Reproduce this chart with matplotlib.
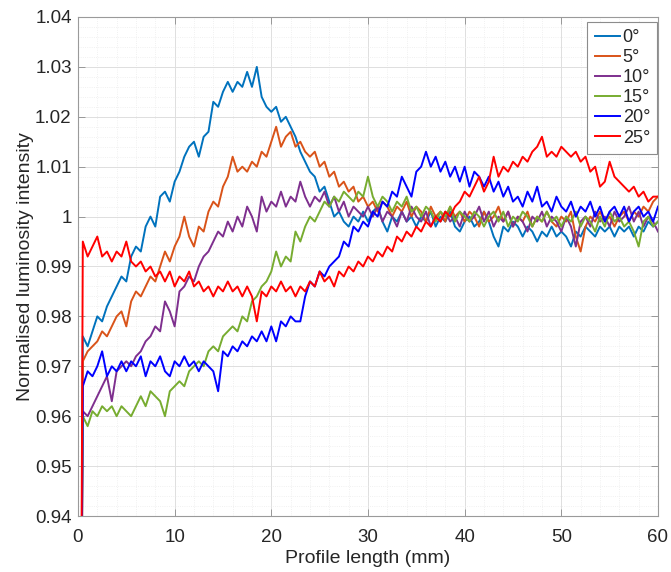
import numpy as np
import matplotlib
matplotlib.use("Agg")
import matplotlib.pyplot as plt
from matplotlib.ticker import MultipleLocator, FixedLocator, FixedFormatter

plt.rcParams['font.family'] = ['Liberation Sans', 'DejaVu Sans']

# sample positions along the profile (first sample is the edge drop-off)
x_mm = np.r_[0.3, np.arange(0.5, 60.01, 0.5)]
edge_value = 0.90

angle_labels = ['0°', '5°', '10°', '15°', '20°', '25°']
line_colors = ['#0072BD', '#D95319', '#7E2F8E', '#77AC30', '#0000FF', '#FF0000']

# normalised luminosity, every 0.5 mm (0.5 .. 60 mm)
lum_0 = [
    0.976, 0.974, 0.977, 0.980, 0.979, 0.982, 0.984, 0.986, 0.988, 0.987,
    0.992, 0.994, 0.993, 0.998, 1.000, 0.998, 1.004, 1.005, 1.003, 1.007,
    1.009, 1.012, 1.014, 1.015, 1.012, 1.016, 1.017, 1.023, 1.022, 1.025,
    1.027, 1.025, 1.027, 1.026, 1.029, 1.026, 1.030, 1.024, 1.022, 1.021,
    1.022, 1.019, 1.020, 1.018, 1.016, 1.013, 1.011, 1.009, 1.008, 1.005,
    1.006, 1.003, 1.000, 1.001, 0.999, 0.998, 1.000, 0.999, 1.001, 0.999,
    1.001, 1.002, 0.999, 0.997, 1.000, 0.999, 1.001, 0.999, 1.000, 0.998,
    1.000, 0.999, 1.001, 0.998, 1.000, 0.999, 1.001, 0.998, 0.997, 0.999,
    1.000, 0.998, 0.999, 1.001, 0.999, 0.996, 0.994, 0.998, 0.997, 0.999,
    0.998, 0.996, 0.998, 0.997, 0.995, 0.997, 0.996, 0.998, 0.996, 0.997,
    0.996, 0.994, 0.997, 0.996, 0.998, 0.997, 0.996, 0.998, 0.997, 0.998,
    0.996, 0.998, 0.997, 0.998, 0.996, 0.998, 0.997, 0.999, 0.998, 0.999,
]
lum_5 = [
    0.971, 0.973, 0.974, 0.975, 0.977, 0.976, 0.978, 0.980, 0.981, 0.978,
    0.983, 0.985, 0.984, 0.986, 0.988, 0.987, 0.990, 0.993, 0.991, 0.994,
    0.996, 1.000, 0.996, 0.994, 0.998, 0.997, 1.001, 1.003, 1.002, 1.006,
    1.008, 1.012, 1.009, 1.010, 1.009, 1.011, 1.010, 1.013, 1.012, 1.015,
    1.018, 1.014, 1.016, 1.017, 1.014, 1.015, 1.013, 1.012, 1.013, 1.010,
    1.011, 1.008, 1.009, 1.006, 1.007, 1.005, 1.006, 1.003, 1.004, 1.002,
    1.003, 1.001, 1.003, 1.002, 1.000, 1.002, 1.001, 1.003, 1.000, 1.002,
    1.001, 0.999, 1.002, 1.000, 1.001, 0.999, 1.002, 1.000, 1.001, 0.999,
    1.001, 1.000, 0.998, 1.001, 0.999, 1.000, 1.002, 0.999, 1.001, 0.998,
    1.000, 0.999, 1.001, 0.998, 1.000, 0.999, 1.001, 0.999, 0.998, 1.000,
    0.999, 1.001, 0.996, 0.993, 0.998, 1.000, 0.999, 1.001, 0.999, 1.000,
    0.998, 1.000, 1.001, 0.999, 1.001, 1.000, 1.002, 1.001, 1.003, 1.004,
]
lum_10 = [
    0.961, 0.960, 0.962, 0.964, 0.966, 0.968, 0.963, 0.969, 0.970, 0.971,
    0.970, 0.972, 0.973, 0.975, 0.976, 0.978, 0.977, 0.983, 0.981, 0.978,
    0.985, 0.986, 0.988, 0.987, 0.990, 0.992, 0.993, 0.995, 0.997, 0.996,
    0.999, 0.997, 1.000, 0.998, 1.002, 1.000, 0.997, 1.004, 1.001, 1.003,
    1.002, 1.005, 1.002, 1.004, 1.003, 1.007, 1.004, 1.002, 1.004, 1.003,
    1.005, 1.002, 1.004, 1.001, 1.003, 1.000, 1.002, 1.001, 1.000, 1.002,
    1.000, 1.002, 0.999, 1.001, 1.000, 0.998, 1.001, 0.999, 1.002, 1.000,
    0.999, 1.001, 0.998, 1.000, 0.999, 1.001, 0.999, 1.000, 0.998, 1.001,
    0.999, 1.000, 1.002, 0.999, 1.001, 0.998, 1.000, 0.999, 1.001, 0.998,
    1.000, 0.999, 0.997, 1.000, 0.999, 1.001, 0.998, 1.000, 0.999, 0.997,
    1.000, 0.998, 0.994, 0.999, 1.000, 0.998, 1.001, 0.999, 1.000, 0.998,
    1.001, 0.999, 1.000, 1.002, 0.999, 1.001, 0.998, 1.000, 0.999, 0.997,
]
lum_15 = [
    0.960, 0.958, 0.961, 0.960, 0.962, 0.961, 0.962, 0.960, 0.962, 0.961,
    0.960, 0.962, 0.964, 0.962, 0.965, 0.964, 0.963, 0.960, 0.965, 0.966,
    0.967, 0.966, 0.969, 0.970, 0.971, 0.970, 0.973, 0.974, 0.973, 0.976,
    0.977, 0.978, 0.977, 0.980, 0.979, 0.983, 0.984, 0.986, 0.987, 0.989,
    0.993, 0.990, 0.992, 0.991, 0.997, 0.995, 0.998, 1.000, 0.999, 1.001,
    1.003, 1.002, 1.004, 1.003, 1.005, 1.004, 1.003, 1.005, 1.004, 1.008,
    1.004, 1.002, 1.004, 1.003, 1.001, 1.003, 1.002, 1.004, 1.001, 1.002,
    1.000, 1.002, 1.001, 0.999, 1.001, 1.000, 1.002, 0.999, 1.001, 1.000,
    0.999, 1.001, 1.000, 0.998, 1.000, 1.001, 0.999, 1.001, 0.998, 1.000,
    0.999, 1.001, 1.000, 0.998, 1.000, 0.999, 1.001, 0.999, 1.000, 0.998,
    1.000, 0.999, 1.001, 0.998, 1.000, 0.999, 0.997, 1.000, 0.998, 1.001,
    0.999, 1.000, 0.998, 0.999, 0.997, 0.994, 0.999, 1.000, 0.998, 0.999,
]
lum_20 = [
    0.966, 0.969, 0.968, 0.970, 0.973, 0.968, 0.970, 0.969, 0.971, 0.969,
    0.971, 0.970, 0.972, 0.968, 0.971, 0.970, 0.972, 0.969, 0.968, 0.971,
    0.970, 0.972, 0.970, 0.971, 0.969, 0.971, 0.970, 0.969, 0.965, 0.973,
    0.972, 0.974, 0.973, 0.975, 0.974, 0.976, 0.975, 0.977, 0.975, 0.978,
    0.975, 0.979, 0.978, 0.980, 0.979, 0.979, 0.984, 0.987, 0.986, 0.989,
    0.988, 0.990, 0.991, 0.992, 0.995, 0.994, 0.998, 0.997, 0.999, 0.998,
    1.001, 1.000, 1.003, 1.002, 1.005, 1.004, 1.008, 1.006, 1.004, 1.009,
    1.010, 1.013, 1.010, 1.012, 1.009, 1.011, 1.008, 1.010, 1.007, 1.010,
    1.006, 1.009, 1.008, 1.006, 1.008, 1.005, 1.007, 1.004, 1.006, 1.003,
    1.004, 1.002, 1.005, 1.003, 1.006, 1.002, 1.003, 1.001, 1.004, 1.002,
    1.001, 1.003, 1.000, 1.002, 1.001, 1.003, 1.000, 1.002, 0.999, 1.001,
    1.002, 1.000, 1.002, 0.999, 1.001, 1.002, 1.000, 1.001, 0.999, 1.002,
]
lum_25 = [
    0.995, 0.992, 0.994, 0.996, 0.992, 0.993, 0.991, 0.993, 0.992, 0.995,
    0.991, 0.990, 0.991, 0.989, 0.990, 0.988, 0.989, 0.987, 0.989, 0.986,
    0.988, 0.987, 0.989, 0.986, 0.987, 0.985, 0.986, 0.984, 0.986, 0.985,
    0.987, 0.985, 0.986, 0.984, 0.986, 0.984, 0.979, 0.985, 0.984, 0.986,
    0.985, 0.987, 0.985, 0.986, 0.984, 0.986, 0.985, 0.987, 0.986, 0.989,
    0.987, 0.988, 0.986, 0.989, 0.988, 0.990, 0.989, 0.991, 0.990, 0.992,
    0.991, 0.993, 0.992, 0.994, 0.993, 0.996, 0.995, 0.997, 0.996, 0.998,
    0.997, 0.999, 0.998, 1.000, 0.999, 1.001, 1.000, 1.002, 1.003, 1.005,
    1.004, 1.006, 1.008, 1.005, 1.007, 1.012, 1.008, 1.010, 1.009, 1.011,
    1.010, 1.012, 1.011, 1.013, 1.014, 1.016, 1.012, 1.013, 1.012, 1.014,
    1.013, 1.012, 1.013, 1.011, 1.012, 1.009, 1.010, 1.006, 1.007, 1.011,
    1.008, 1.007, 1.006, 1.005, 1.006, 1.004, 1.005, 1.003, 1.004, 1.004,
]
all_series = [lum_0, lum_5, lum_10, lum_15, lum_20, lum_25]

xtick_vals = [0, 10, 20, 30, 40, 50, 60]
ytick_vals = [0.94, 0.95, 0.96, 0.97, 0.98, 0.99, 1.00, 1.01, 1.02, 1.03, 1.04]
ytick_labels = ['0.94', '0.95', '0.96', '0.97', '0.98', '0.99', '1',
                '1.01', '1.02', '1.03', '1.04']

fig = plt.figure(figsize=(6.71, 5.72), dpi=100)
ax = fig.add_axes([0.1162, 0.0979, 0.8644, 0.8724])

for vals, lab, col in zip(all_series, angle_labels, line_colors):
    ax.plot(x_mm, np.r_[edge_value, vals], color=col, lw=1.4, label=lab)

ax.set_xlim(0, 60)
ax.set_ylim(0.94, 1.04)
ax.xaxis.set_major_locator(FixedLocator(xtick_vals))
ax.yaxis.set_major_locator(FixedLocator(ytick_vals))
ax.yaxis.set_major_formatter(FixedFormatter(ytick_labels))
ax.xaxis.set_minor_locator(MultipleLocator(2))
ax.yaxis.set_minor_locator(MultipleLocator(0.002))

# matlab-ish look: inward ticks on all sides, grey box, major + minor grid
ax.tick_params(which='major', direction='in', length=5, width=0.6,
               top=True, right=True, color='#8c8c8c',
               labelsize=13.5, labelcolor='#262626')
ax.tick_params(axis='x', which='major', pad=9.5)
ax.tick_params(axis='y', which='major', pad=4.5)
ax.tick_params(which='minor', length=0, top=True, right=True)
for sp in ax.spines.values():
    sp.set_color('#9a9a9a')
    sp.set_linewidth(0.8)
ax.grid(which='major', color='#dedede', lw=0.7)
ax.grid(which='minor', color='#ececec', lw=0.6, linestyle=':')
ax.set_axisbelow(True)

ax.set_xlabel('Profile length (mm)', fontsize=14, color='#262626', labelpad=3)
ax.set_ylabel('Normalised luminosity intensity', fontsize=14, color='#262626', labelpad=1)

leg = ax.legend(loc='upper right', bbox_to_anchor=(0.999, 0.99), borderaxespad=0,
                fontsize=13, fancybox=False, framealpha=1, edgecolor='#8c8c8c',
                handlelength=1.4, handletextpad=0.15, labelspacing=0.17,
                borderpad=0.4)
leg.get_frame().set_linewidth(0.8)
for t in leg.get_texts():
    t.set_color('#262626')

fig.savefig('out.png', dpi=100)
